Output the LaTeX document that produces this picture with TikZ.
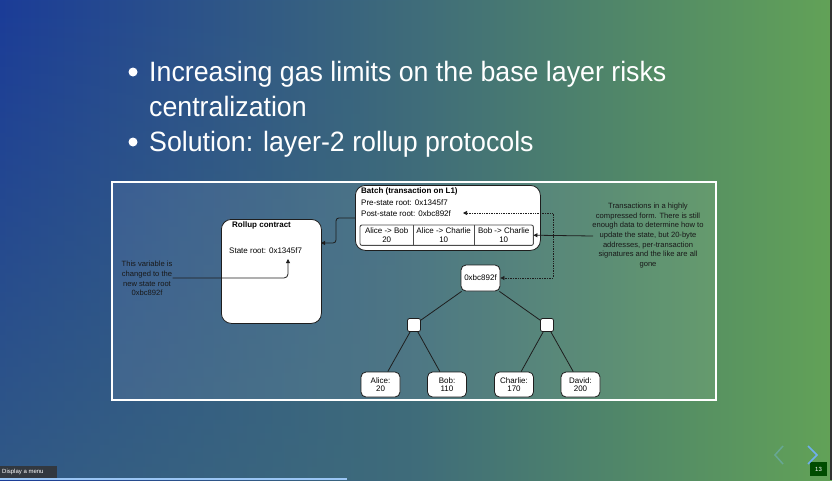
\documentclass[tikz,border=0pt]{standalone}
\usepackage{fontspec}
\setmainfont{Liberation Sans}
\newfontfamily\slidefont[FakeStretch=0.955]{Liberation Sans}
\usetikzlibrary{arrows.meta,fadings}
\definecolor{bgblue}{HTML}{1B3C98}
\definecolor{bgteal}{HTML}{3F6C7A}
\definecolor{bggreen}{HTML}{62A257}
\definecolor{boxline}{HTML}{1E1E1E}
\definecolor{navblue}{HTML}{6FAEF0}

\begin{document}
\begin{tikzpicture}[x=1pt,y=-1pt,
  box/.style={draw=boxline,fill=white,rounded corners=5pt,line width=0.8pt,inner sep=0pt},
  cell/.style={minimum height=20pt,inner sep=0pt,align=center,font=\fontsize{8}{8.5}\selectfont},
  leaf/.style={box,minimum width=39pt,minimum height=25pt,align=center,font=\fontsize{8}{8.5}\selectfont},
  hash/.style={box,rounded corners=2pt,minimum width=13pt,minimum height=13pt},
  small/.style={font=\fontsize{8}{9}\selectfont,inner sep=0pt},
  note/.style={font=\fontsize{7.6}{9.6}\selectfont,align=center,inner sep=0pt,text=black!90},
  conn/.style={draw=boxline,line width=0.8pt,-{Triangle[length=4pt,width=4pt]}},
  bullet/.style={font=\slidefont\fontsize{28}{35}\selectfont,text=white,anchor=base west,inner sep=0pt}]

  \shade[left color=bgblue,right color=bggreen,middle color=bgteal] (0,0) rectangle (832,480);
  \fill[bgteal,path fading=north,fill opacity=0.6] (0,0) rectangle (420,480);

  \fill[white] (133,72) circle (4.5pt);
  \fill[white] (133,142) circle (4.5pt);
  \node[bullet] (pointa) at (149,81) {Increasing gas limits on the base layer risks};
  \node[bullet] (pointb) at (149,116) {centralization};
  \node[bullet] (pointc) at (149,151) {Solution: layer-2 rollup protocols};

  \fill[white,fill opacity=0.08] (112,182) rectangle (716,400);
  \draw[white,line width=2.5pt] (112,182) rectangle (716,400);

  \node[box,rounded corners=10pt,minimum width=100pt,minimum height=104pt,anchor=north west] (rollup) at (221,219) {};
  \node[small,anchor=north west,font=\bfseries\fontsize{8}{9}\selectfont] (rolluptitle) at (232,221) {Rollup contract};
  \node[small,anchor=north west] (stateroot) at (229,248) {State root: 0x1345f7};

  \node[box,rounded corners=10pt,minimum width=185pt,minimum height=65pt,anchor=north west] (batch) at (355,185) {};
  \node[small,anchor=north west,font=\bfseries\fontsize{8}{9}\selectfont] (batchtitle) at (361,187) {Batch (transaction on L1)};
  \node[small,anchor=north west] (pre) at (361,200) {Pre-state root: 0x1345f7};
  \node[small,anchor=north west] (post) at (361,210) {Post-state root: 0xbc892f};

  \node[cell,minimum width=53pt,anchor=north west] (txa) at (360,225) {Alice -> Bob\\20};
  \node[cell,minimum width=61pt,anchor=north west] (txb) at (413,225) {Alice -> Charlie\\10};
  \node[cell,minimum width=59pt,anchor=north west] (txc) at (474,225) {Bob -> Charlie\\10};
  \draw[boxline!80,line width=0.9pt,rounded corners=2pt] (txa.north west) rectangle (txc.south east);
  \draw[boxline!80,line width=0.7pt] (txb.north west) -- (txb.south west) (txc.north west) -- (txc.south west);

  \node[box,minimum width=39pt,minimum height=26pt,font=\fontsize{8}{9}\selectfont] (root) at (480.5,278) {0xbc892f};
  \node[hash] (hashl) at (414,325) {};
  \node[hash] (hashr) at (547,325) {};
  \node[leaf] (alice) at (380.5,384.5) {Alice:\\20};
  \node[leaf] (bob) at (447,384.5) {Bob:\\110};
  \node[leaf] (charlie) at (514,384.5) {Charlie:\\170};
  \node[leaf] (david) at (580.5,384.5) {David:\\200};

  \draw[boxline,line width=0.8pt] (root) -- (hashl) (root) -- (hashr)
    (hashl) -- (alice) (hashl) -- (bob) (hashr) -- (charlie) (hashr) -- (david);

  \node[note] (varnote) at (147,278.5) {This variable is\\changed to the\\new state root\\0xbc892f};
  \node[note] (txnote) at (648,235.5) {Transactions in a highly\\compressed form. There is still\\enough data to determine how to\\update the state, but 20-byte\\addresses, per-transaction\\signatures and the like are all\\gone};

  \coordinate (rollupin) at (321,243);
  \coordinate (stateup) at (288,259);
  \coordinate (postend) at (463,213);
  \coordinate (txnotein) at (593,236);

  \draw[conn,rounded corners=3pt] (batch.west) -- ++(-19,0) |- (rollupin);
  \draw[conn,rounded corners=4pt] (varnote.east |- 0,278) -- (288,278) -- (stateup);
  \draw[conn] (txnotein) -- (txc.east);
  \draw[boxline,line width=0.7pt,densely dotted,{Triangle[length=4pt,width=4pt]}-{Triangle[length=4pt,width=4pt]}]
    (postend) -- (553,213) |- (root.east);

  \fill[black!80,fill opacity=0.85] (0,466) rectangle (57,478);
  \node[text=white,font=\fontsize{6}{6}\selectfont,inner sep=0pt,anchor=west] (menu) at (2,472) {Display a menu};
  \fill[navblue!70!white] (0,478) rectangle (347,480);
  \fill[black!70!green] (810,462) rectangle (827,476);
  \node[text=white,font=\fontsize{6}{6}\selectfont,inner sep=0pt] (slideno) at (818.5,469) {13};
  \draw[navblue!40!bggreen,line width=1.5pt] (783,446) -- (775,455) -- (783,464);
  \draw[navblue,line width=1.5pt] (808,446) -- (817,455) -- (808,464);
  \fill[black!80] (830,0) rectangle (832,480);
\end{tikzpicture}
\end{document}
